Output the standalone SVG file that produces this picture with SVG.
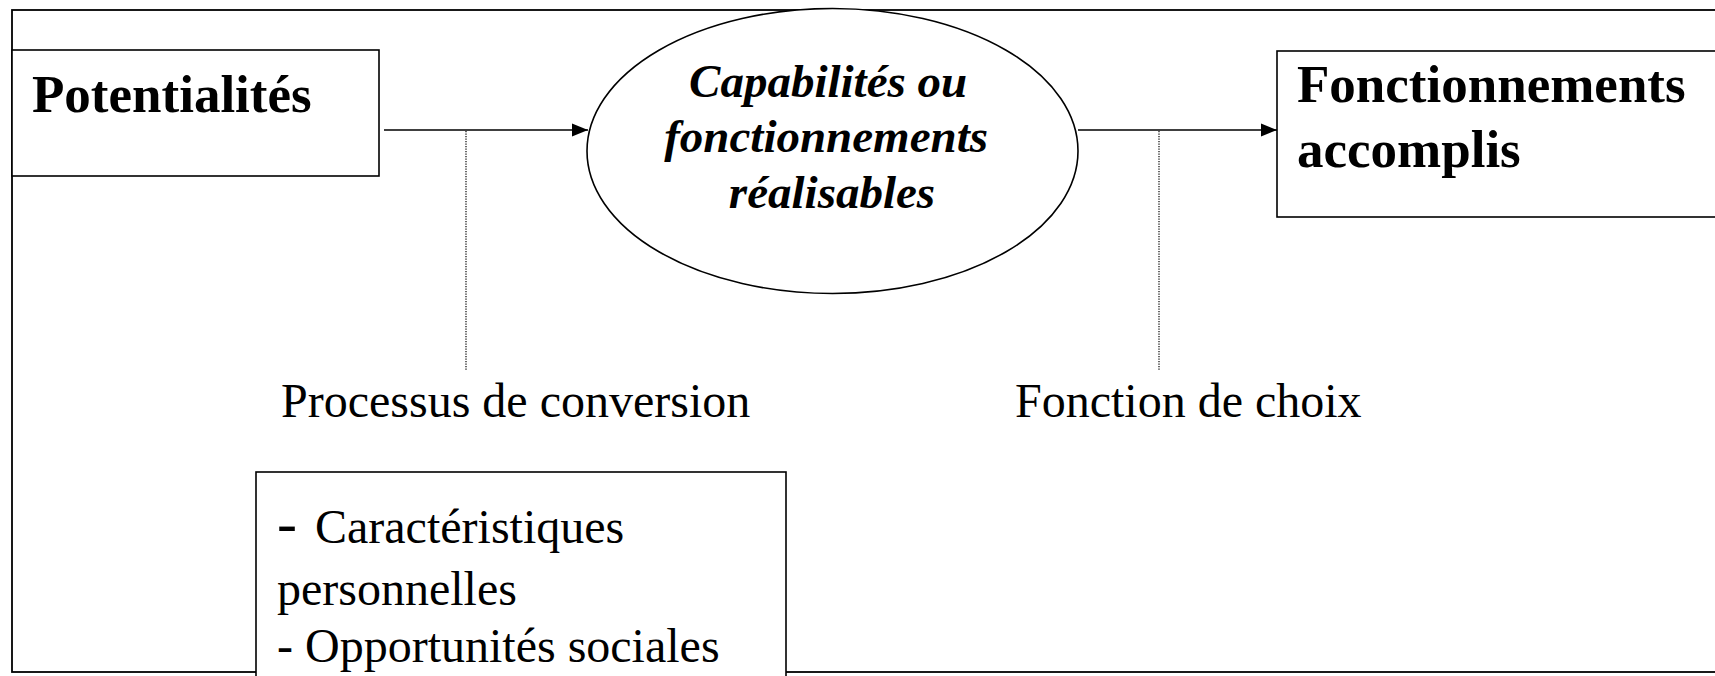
<svg xmlns="http://www.w3.org/2000/svg" width="1715" height="676" viewBox="0 0 1715 676">
<defs>
<style>
.box{fill:#fff;stroke:#000;stroke-width:1.6}
.frame{fill:none;stroke:#000;stroke-width:1.8}
.conn{stroke:#000;stroke-width:1.5;fill:none}
.dot{stroke:#000;stroke-width:1.2;stroke-dasharray:1.2,1.3;fill:none}
.bold{font-family:"Liberation Serif","Times New Roman",serif;font-weight:bold;font-size:53px;fill:#000}
.bi{font-family:"Liberation Serif","Times New Roman",serif;font-weight:bold;font-style:italic;font-size:47px;fill:#000}
.reg{font-family:"Liberation Serif","Times New Roman",serif;font-size:48px;fill:#000}
</style>
<marker id="arrow" markerUnits="userSpaceOnUse" markerWidth="17" markerHeight="14" refX="16" refY="7" orient="auto">
<path d="M0,0.5 L16,7 L0,13.5 z" fill="#000"/>
</marker>
</defs>
<rect width="1715" height="676" fill="#fff"/>
<rect id="frame" class="frame" x="12" y="10" width="1730" height="662"/>
<g id="connectors">
<line class="conn" x1="384" y1="130" x2="588" y2="130" marker-end="url(#arrow)"/>
<line class="conn" x1="1078" y1="130" x2="1277" y2="130" marker-end="url(#arrow)"/>
<line class="dot" x1="466" y1="131" x2="466" y2="371"/>
<line class="dot" x1="1159" y1="131" x2="1159" y2="371"/>
</g>
<g id="potentialites">
<rect class="box" x="12" y="50" width="367" height="126"/>
<text class="bold" x="32" y="112">Potentialités</text>
</g>
<g id="capabilites">
<ellipse class="box" cx="832.5" cy="151" rx="245.5" ry="142.5"/>
<text class="bi" text-anchor="middle">
<tspan x="834" y="97">Capabilités ou</tspan>
<tspan x="832" y="152">fonctionnements</tspan>
<tspan x="832" y="208">réalisables</tspan>
</text>
</g>
<g id="fonctionnements">
<rect class="box" x="1277" y="51" width="460" height="166"/>
<text class="bold">
<tspan x="1297" y="102">Fonctionnements</tspan>
<tspan x="1297" y="167">accomplis</tspan>
</text>
</g>
<g id="processus">
<text class="reg" x="281" y="417">Processus de conversion</text>
</g>
<g id="choix">
<text class="reg" x="1015" y="417">Fonction de choix</text>
</g>
<g id="facteurs">
<rect class="box" x="256" y="472" width="530" height="260"/>
<text class="reg">
<tspan x="277" y="543" font-size="60">-</tspan><tspan x="315" y="543">Caractéristiques</tspan>
<tspan x="277" y="605">personnelles</tspan>
<tspan x="277" y="662">- Opportunités sociales</tspan>
</text>
</g>
</svg>
